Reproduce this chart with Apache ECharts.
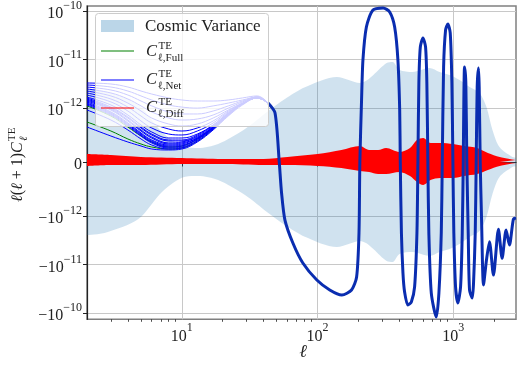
<!DOCTYPE html>
<html><head><meta charset="utf-8">
<script src="https://cdn.jsdelivr.net/npm/echarts@6/dist/echarts.min.js"></script>
<style>html,body{margin:0;padding:0;background:#fff}#c{width:517px;height:369px}</style>
</head><body><div id="c"></div>
<script>
// ---- data (values in units of 1e-12) ----
const cvEll   = [2,2.73,4.78,7.17,10.6,13.2,18.5,29.2,43.1,57.5,80.7,139,205,323,357,402,501,669,793,939,1112,1318,1561,1757,1945,2190,2728,2900];
const cvSigma = [2.48,2.22,1.16,0.551,0.273,0.260,0.334,0.612,0.941,1.54,2.69,4.39,3.30,8.51,8.93,6.11,5.56,6.71,5.56,4.82,3.80,2.72,2.05,1.05,0.594,0.278,0.093,0.08];

const lowEll = [2,3,4,5,6,8,10,13,17,22,28,36,43.2];
const netLow = [
  [3.29,3.14,2.72,2.25,1.95,1.62,1.47,1.40,1.40,1.47,1.62,1.78,1.27],
  [3.00,2.72,2.25,1.78,1.47,1.16,1.05,1.00,1.11,1.27,1.47,1.69,1.27],
  [2.72,2.36,1.86,1.40,1.11,0.928,0.891,0.891,0.946,1.11,1.40,1.69,1.27],
  [2.48,2.05,1.54,1.11,0.928,0.816,0.779,0.798,0.872,1.00,1.34,1.69,1.27],
  [2.25,1.78,1.27,0.946,0.816,0.705,0.668,0.705,0.816,0.965,1.27,1.69,1.27],
  [2.05,1.54,1.05,0.853,0.724,0.612,0.575,0.631,0.761,0.946,1.27,1.69,1.27],
  [1.86,1.34,0.946,0.761,0.631,0.519,0.501,0.575,0.724,0.928,1.22,1.62,1.27],
  [1.69,1.16,0.872,0.686,0.557,0.445,0.445,0.519,0.686,0.909,1.22,1.62,1.27],
  [1.62,1.05,0.835,0.649,0.519,0.408,0.408,0.501,0.686,0.909,1.22,1.62,1.27],
  [1.54,1.00,0.816,0.631,0.501,0.390,0.390,0.482,0.668,0.891,1.22,1.62,1.27],
  [1.47,0.983,0.779,0.594,0.464,0.353,0.371,0.464,0.649,0.891,1.22,1.62,1.27],
  [1.40,0.965,0.761,0.575,0.445,0.334,0.353,0.445,0.649,0.891,1.22,1.62,1.27],
  [1.34,0.928,0.724,0.538,0.408,0.315,0.334,0.445,0.649,0.891,1.22,1.62,1.27],
  [1.27,0.909,0.705,0.519,0.390,0.297,0.315,0.427,0.631,0.872,1.22,1.62,1.27],
  [1.22,0.891,0.686,0.501,0.371,0.278,0.297,0.427,0.631,0.872,1.22,1.62,1.27],
  [1.16,0.872,0.668,0.482,0.353,0.260,0.278,0.408,0.631,0.872,1.22,1.62,1.27],
  [0.965,0.779,0.594,0.427,0.315,0.241,0.260,0.390,0.612,0.872,1.22,1.62,1.27],
  [0.649,0.482,0.371,0.297,0.241,0.223,0.241,0.371,0.594,0.853,1.16,1.62,1.27]
];
const fullLow = [
  [0.742,0.575,0.427,0.334,0.278,0.241,0.260,0.390,0.612,0.872,1.22,1.62,1.27],
  [1.11,0.853,0.649,0.482,0.371,0.278,0.297,0.427,0.631,0.891,1.22,1.62,1.27]
];

const mainEll = [43.2,48.6,52.2,54.3,57.5,65.8,77.9,98.8,123,151,178,194,202,205,211,216,229,256,304,340,370,391,403,407,415,426,438,463,491,519,540,549,558,572,598,625,639,650,661,689,750,784,816,830,849,878,913,950,977,994,1010,1040,1081,1132,1165,1185,1197,1211,1238,1259,1289,1318,1380,1411,1452,1476,1501,1535,1553,1580,1615,1671,1757,1849,1978,2153,2291,2452,2594,2775,2900];
const mainVal = [1.27,0.909,0,-0.575,-1.22,-3.62,-9.36,-21.0,-33.7,-42.8,-33.7,-18.2,-2.25,0,1.47,9.82,47.1,105,116,96,47.1,9.82,0.965,0,-2.25,-15.1,-37.1,-68.7,-59.7,-29.2,-2.25,0,3.30,18.2,27.9,18.2,3.30,0,-2.25,-38.9,-122,-38.9,-2.25,0,7.05,40.8,54.2,35.4,3.30,0,-2.25,-29.2,-62.5,-29.2,-2.25,0,1.47,7.05,3.30,0,-2.25,-33.7,-49.3,-24.2,-2.25,0,2.72,6.71,2.72,0,-1.05,-26.6,-8.13,-3.40,-16.6,-1.89,-7.50,-1.96,-3.98,-1.17,-1.11];

const diffEll   = [2,3,5,10,20,40,60,100,150,205,240,280,320,400,480,540,600,680,800,1000,1200,1500,1800,2200,2900];
const diffUpper = [0.148,0.130,0.093,0.074,0.056,0.056,0.093,0.148,0.223,0.297,0.223,0.223,0.260,0.186,0.260,0.408,0.445,0.353,0.353,0.334,0.297,0.260,0.167,0.093,0.037];
const diffLower = [-0.074,-0.056,-0.056,-0.037,-0.037,-0.056,-0.056,-0.074,-0.111,-0.167,-0.186,-0.223,-0.223,-0.186,-0.260,-0.371,-0.427,-0.334,-0.297,-0.297,-0.260,-0.223,-0.148,-0.074,-0.019];

const yTickValues = [-100,-10,-1,0,1,10,100];
const yTickLabels = ['{b|−10}{s|−10}','{b|−10}{s|−11}','{b|−10}{s|−12}','{b|0}','{b|10}{s|−12}','{b|10}{s|−11}','{b|10}{s|−10}'];
const xTickValues = [10,100,1000];
const xTickLabels = ['{b|10}{s|1}','{b|10}{s|2}','{b|10}{s|3}'];
const xMinorTicks = [3,4,5,6,7,8,9,20,30,40,50,60,70,80,90,200,300,400,500,600,700,800,900,2000];

// ---- symlog transform (linthresh = 1e-12, linscale = 1) ----
const LS = 1/(1-1/10);
function sl(v){ const a=Math.abs(v); return a<=1 ? v*LS : Math.sign(v)*(LS+Math.log10(a)); }
const pts = (ls, vs, sgn=1) => ls.map((l,i)=>[l, sl(sgn*vs[i])]);

const FONT = 'Liberation Serif';
const series = [];
const base = {type:'line', symbol:'none', silent:true, animation:false, xAxisIndex:0, yAxisIndex:0};
series.push(Object.assign({}, base, {data:pts(cvEll,cvSigma), smooth:0.3, lineStyle:{width:0}, areaStyle:{color:'rgba(31,119,180,0.3)', origin:0}, z:1}));
series.push(Object.assign({}, base, {data:pts(cvEll,cvSigma,-1), smooth:0.3, lineStyle:{width:0}, areaStyle:{color:'rgba(31,119,180,0.3)', origin:0}, z:1}));
fullLow.forEach(v=>series.push(Object.assign({}, base, {data:pts(lowEll,v), smooth:0.4, lineStyle:{color:'#008000', width:1}, z:2})));
netLow.forEach(v=>series.push(Object.assign({}, base, {data:pts(lowEll,v), smooth:0.4, lineStyle:{color:'#0000ff', width:1}, z:3})));
series.push(Object.assign({}, base, {data:pts(diffEll,diffUpper), smooth:0.3, lineStyle:{width:0}, areaStyle:{color:'#ff0000', opacity:1, origin:0}, z:4}));
series.push(Object.assign({}, base, {data:pts(diffEll,diffLower), smooth:0.3, lineStyle:{width:0}, areaStyle:{color:'#ff0000', opacity:1, origin:0}, z:4}));
series.push(Object.assign({}, base, {data:pts(mainEll,mainVal), smooth:0.25, lineStyle:{color:'#0a2db0', width:3}, z:5}));

const yTickPos = yTickValues.map(sl);
function yFmt(val){ for(let i=0;i<yTickPos.length;i++){ if(Math.abs(yTickPos[i]-val)<1e-6) return yTickLabels[i]; } return ''; }
function xFmt(val){ const i = xTickValues.findIndex(v=>Math.abs(v-val)/v<1e-6); return i>=0?xTickLabels[i]:''; }

const rich = {
  b:{fontFamily:FONT, fontSize:16, color:'#222', verticalAlign:'bottom', lineHeight:22},
  s:{fontFamily:FONT, fontSize:12, color:'#222', verticalAlign:'top', lineHeight:12}
};

const ink = '#222';
function T(x,y,text,size,italic){ return {type:'text', x:x, y:y, z:101, style:{text:text, fontFamily:FONT, fontSize:size, fontStyle:italic?'italic':'normal', fill:ink, verticalAlign:'middle', align:'left'}}; }
function legendMath(yc, sub){
  return [ T(146,yc,'C',16.5,true), T(158.5,yc-6,'TE',11), T(157.5,yc+6,'ℓ,'+sub,11) ];
}
const graphics = [
  {type:'rect', z:100, shape:{x:95.5,y:13.5,width:173,height:113,r:3}, style:{fill:'rgba(255,255,255,0.8)', stroke:'#cccccc', lineWidth:1}},
  {type:'rect', z:101, shape:{x:101,y:20,width:33,height:12}, style:{fill:'rgba(31,119,180,0.3)'}},
  T(145,26.5,'Cosmic Variance',17),
  {type:'line', z:101, shape:{x1:101,y1:51,x2:134,y2:51}, style:{stroke:'#008000', lineWidth:1.2}},
  {type:'line', z:101, shape:{x1:101,y1:80,x2:134,y2:80}, style:{stroke:'#0000ff', lineWidth:1.2}},
  {type:'line', z:101, shape:{x1:101,y1:108,x2:134,y2:108}, style:{stroke:'#ff0000', lineWidth:1.2}},
  ...legendMath(52,'Full'), ...legendMath(80,'Net'), ...legendMath(108,'Diff'),
  {type:'text', z:101, x:303, y:352, style:{text:'ℓ', fontFamily:FONT, fontSize:18, fontStyle:'italic', fill:ink, align:'center', verticalAlign:'middle'}},
  {type:'group', x:18, y:162, rotation:Math.PI/2, z:101, children:[
    {type:'text', x:-40, y:0, style:{text:'{i|ℓ}{r|(}{i|ℓ}{r| + 1)}{i|C}', rich:{i:{fontFamily:FONT,fontSize:16,fontStyle:'italic',fill:ink},r:{fontFamily:FONT,fontSize:16,fill:ink}}, fill:ink, align:'left', verticalAlign:'middle'}},
    {type:'text', x:21, y:-6, style:{text:'TE', fontFamily:FONT, fontSize:11, fill:ink, align:'left', verticalAlign:'middle'}},
    {type:'text', x:21, y:6, style:{text:'ℓ', fontFamily:FONT, fontSize:11, fontStyle:'italic', fill:ink, align:'left', verticalAlign:'middle'}}
  ]}
];

const chart = echarts.init(document.getElementById('c'), null, {renderer:'canvas'});
chart.setOption({
  animation:false,
  backgroundColor:'#ffffff',
  grid:{left:87, right:1, top:6, bottom:49.7, show:true, borderColor:'#808080', borderWidth:1.5, backgroundColor:'transparent', containLabel:false},
  xAxis:[
    {type:'log', logBase:10, min:2, max:2900, position:'bottom',
     axisLine:{show:true, lineStyle:{color:'#222', width:1.2}},
     axisTick:{show:true, customValues:xTickValues, length:4.5, lineStyle:{color:'#222', width:1}},
     axisLabel:{show:true, customValues:xTickValues, formatter:xFmt, margin:3, rich:rich},
     splitLine:{show:true, lineStyle:{color:'#c8c8c8', width:1}}, minorTick:{show:false}},
    {type:'log', logBase:10, min:2, max:2900, position:'bottom', gridIndex:0,
     axisLine:{show:false}, axisLabel:{show:false}, splitLine:{show:false},
     axisTick:{show:true, customValues:xMinorTicks, length:2.5, lineStyle:{color:'#222', width:0.8}}}
  ],
  yAxis:{type:'value', min:-3.243, max:3.216,
     axisLine:{show:true, lineStyle:{color:'#222', width:1.2}},
     axisTick:{show:true, customValues:yTickPos, length:4, lineStyle:{color:'#222', width:1}},
     axisLabel:{show:true, customValues:yTickPos, formatter:yFmt, margin:5, rich:rich},
     splitLine:{show:true, lineStyle:{color:'#c8c8c8', width:1}}},
  series:series,
  graphic:graphics
});
</script></body></html>
